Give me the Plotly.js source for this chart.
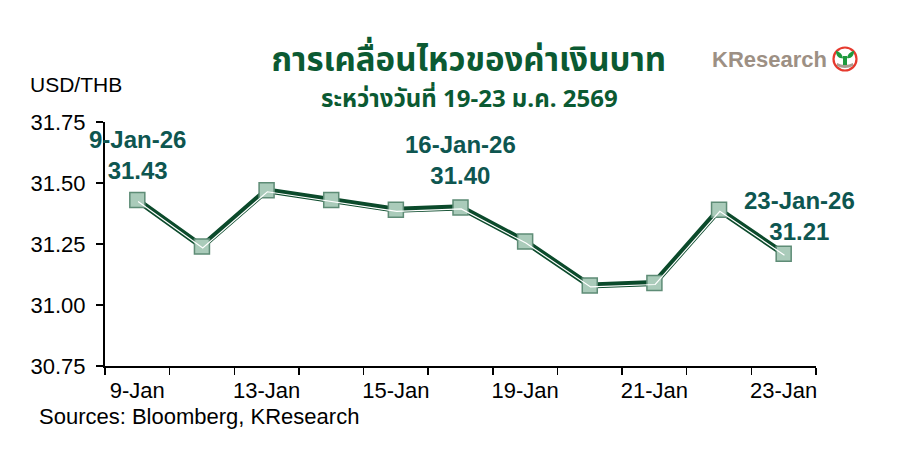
<!DOCTYPE html>
<html>
<head>
<meta charset="utf-8">
<script src="https://cdn.plot.ly/plotly-3.0.1.min.js"></script>
<style>
  html, body { margin: 0; padding: 0; background: #ffffff; }
  #chart { width: 921px; height: 469px; }
</style>
</head>
<body>
<div id="chart"></div>
<script>
// ---- data ----
const dates = ["9-Jan", "12-Jan", "13-Jan", "14-Jan", "15-Jan", "16-Jan", "19-Jan", "20-Jan", "21-Jan", "22-Jan", "23-Jan"];
const usdthb = [31.43, 31.24, 31.47, 31.43, 31.39, 31.40, 31.26, 31.08, 31.09, 31.39, 31.21];
const labelIdx = [0, 2, 4, 6, 8, 10];
const calloutIdx = [0, 5, 10];
const calloutDates = ["9-Jan-26", "16-Jan-26", "23-Jan-26"];
const yTicks = [30.75, 31.00, 31.25, 31.50, 31.75];

const xIdx = dates.map((d, i) => i);
const FONT = "Liberation Sans, Arial, sans-serif";
const THAI = "Noto Sans Thai, Tahoma, Loma, Garuda, sans-serif";
const DARK = "#0b4a2b";

const traces = [
  { x: xIdx, y: usdthb, type: "scatter", mode: "lines",
    line: { color: DARK, width: 6 }, hoverinfo: "skip", showlegend: false },
  { x: xIdx, y: usdthb, type: "scatter", mode: "lines", xaxis: "x2", yaxis: "y2",
    line: { color: "#ffffff", width: 1.2 }, hoverinfo: "skip", showlegend: false },
  { x: xIdx, y: usdthb, type: "scatter", mode: "markers",
    marker: { symbol: "square", size: 15, color: "#aacbba", line: { color: "#5e8c76", width: 1.5 } },
    showlegend: false }
];

const annotations = calloutIdx.map((idx, k) => ({
  x: idx, y: usdthb[idx], xref: "x", yref: "y",
  text: calloutDates[k] + "<br>" + usdthb[idx].toFixed(2),
  showarrow: false, yanchor: "bottom", xanchor: "center",
  xshift: k === 2 ? 16 : 0, yshift: k === 0 ? 14 : (k === 1 ? 16 : 7),
  font: { family: FONT, size: 24, color: "#0e5650", weight: "bold" }
}));

annotations.push(
  { xref: "paper", yref: "paper", x: 0.513, y: 1.09, text: "<b>ระหว่างวันที่ 19-23 ม.ค. 2569</b>",
    showarrow: false, xanchor: "center", yanchor: "middle",
    font: { family: THAI, size: 24, color: "#0b5a32" } },
  { xref: "paper", yref: "paper", x: -0.108, y: 1.152, text: "USD/THB",
    showarrow: false, xanchor: "left", yanchor: "middle",
    font: { family: FONT, size: 21, color: "#000000" } },
  { xref: "paper", yref: "paper", x: -0.095, y: -0.205, text: "Sources: Bloomberg, KResearch",
    showarrow: false, xanchor: "left", yanchor: "middle",
    font: { family: FONT, size: 22, color: "#000000" } },
  { xref: "paper", yref: "paper", x: 1.018, y: 1.258, text: "<b>KResearch</b>",
    showarrow: false, xanchor: "right", yanchor: "middle",
    font: { family: FONT, size: 22, color: "#9d9084" } }
);

const minorVals = [];
for (let i = 0; i <= dates.length; i++) minorVals.push(i - 0.5);

const logoX = (845 - 105) / 711, logoY = (366 - 59) / 244;

const layout = {
  width: 921, height: 469,
  margin: { l: 105, r: 105, t: 122, b: 103 },
  paper_bgcolor: "#ffffff", plot_bgcolor: "#ffffff",
  font: { family: FONT, color: "#000000" },
  title: { text: "<b>การเคลื่อนไหวของค่าเงินบาท</b>",
    x: 0.509, xanchor: "center", xref: "container",
    y: 0.874, yanchor: "middle", yref: "container",
    font: { family: THAI, size: 33, color: "#0b5a32" } },
  xaxis: {
    range: [-0.5, dates.length - 0.5], showgrid: false, zeroline: false,
    showline: true, linecolor: "#000000", linewidth: 2,
    tickmode: "array", tickvals: labelIdx, ticktext: labelIdx.map(i => dates[i]),
    ticks: "", ticklabelstandoff: 4,
    tickfont: { family: FONT, size: 22, color: "#000000" },
    minor: { tickmode: "array", tickvals: minorVals, ticks: "outside", ticklen: 7, tickwidth: 1.5, tickcolor: "#000000", showgrid: false }
  },
  yaxis: {
    range: [30.75, 31.75], showgrid: false, zeroline: false,
    showline: true, linecolor: "#000000", linewidth: 2,
    tickmode: "array", tickvals: yTicks, tickformat: ".2f",
    ticks: "outside", ticklen: 7, tickwidth: 1.5, tickcolor: "#000000",
    ticklabelstandoff: 6,
    tickfont: { family: FONT, size: 22, color: "#000000" }
  },
  xaxis2: { overlaying: "x", range: [-0.5 - 0.012, dates.length - 0.5 - 0.012], visible: false },
  yaxis2: { overlaying: "y", range: [30.75 + 0.006, 31.75 + 0.006], visible: false },
  annotations: annotations,
  shapes: [
    { type: "circle", xref: "paper", yref: "paper", xsizemode: "pixel", ysizemode: "pixel",
      xanchor: logoX, yanchor: logoY,
      x0: -11.5, x1: 11.5, y0: -11.5, y1: 11.5,
      line: { color: "#e63a2e", width: 2.2 }, fillcolor: "#ffffff" },
    { type: "path", xref: "paper", yref: "paper", xsizemode: "pixel", ysizemode: "pixel",
      xanchor: logoX, yanchor: logoY,
      path: "M -8,-4 Q 0,-8 8,-4 L 8,-7 Q 0,-11 -8,-7 Z",
      line: { width: 0 }, fillcolor: "#a89c90" },
    { type: "path", xref: "paper", yref: "paper", xsizemode: "pixel", ysizemode: "pixel",
      xanchor: logoX, yanchor: logoY,
      path: "M -2,-6 L -2,1 C -3,6 -7,8 -9,8 C -9,3 -6,0 -2,1 Z M 2,-6 L 2,1 C 3,6 7,8 9,8 C 9,3 6,0 2,1 Z M -2,-6 L 2,-6 L 2,3 L -2,3 Z",
      line: { width: 0 }, fillcolor: "#1f9a3e" }
  ]
};

Plotly.newPlot("chart", traces, layout, { displayModeBar: false, staticPlot: true });
</script>
</body>
</html>
